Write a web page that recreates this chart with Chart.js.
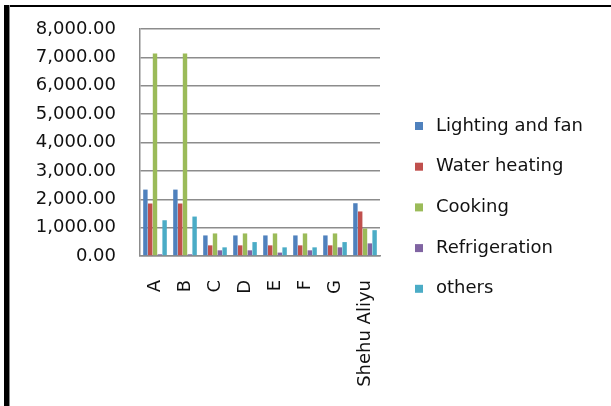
<!DOCTYPE html>
<html>
<head>
<meta charset="utf-8">
<script src="https://cdn.jsdelivr.net/npm/chart.js@4/dist/chart.umd.min.js"></script>
<style>
  body { margin: 0; background: #fff; }
  #wrap { position: relative; width: 611px; height: 406px; overflow: hidden; }
  #myChart { position: absolute; left: 0; top: 0; }
  .frameTop { position: absolute; left: 4px; top: 5px; width: 607px; height: 2px; background: #000; }
  .frameLeft { position: absolute; left: 4px; top: 5px; width: 5px; height: 401px; background: #000; border-right: 1px solid #888; }
</style>
</head>
<body>
<div id="wrap">
  <canvas id="myChart" width="611" height="406"></canvas>
  <div class="frameTop"></div>
  <div class="frameLeft"></div>
</div>
<script>
var categories = ["A", "B", "C", "D", "E", "F", "G", "Shehu Aliyu"];
var seriesNames = ["Lighting and fan", "Water heating", "Cooking", "Refrigeration", "others"];
var seriesColors = ["#4F81BD", "#C0504D", "#9BBB59", "#8064A2", "#4BACC6"];

var lighting      = [2340, 2340, 725, 725, 725, 725, 725, 1860];
var waterHeating  = [1850, 1850, 375, 375, 375, 375, 375, 1570];
var cooking       = [7140, 7140, 795, 795, 795, 795, 795, 970];
var refrigeration = [60, 60, 200, 200, 120, 200, 305, 445];
var others        = [1260, 1390, 305, 490, 305, 305, 490, 910];

var yTicks = [0, 1000, 2000, 3000, 4000, 5000, 6000, 7000, 8000];

var allSeries = [lighting, waterHeating, cooking, refrigeration, others];
var datasets = [];
for (var i = 0; i < allSeries.length; i++) {
  datasets.push({
    label: seriesNames[i],
    data: allSeries[i],
    backgroundColor: seriesColors[i],
    barPercentage: 0.92,
    categoryPercentage: 0.8
  });
}

var FONT = "'DejaVu Sans', sans-serif";
var TEXT = '#111';

// legend drawn by hand on the right, Excel style
var sideLegend = {
  id: 'sideLegend',
  afterDraw: function (chart) {
    var ctx = chart.ctx;
    ctx.save();
    ctx.font = "18px " + FONT;
    ctx.textBaseline = 'middle';
    ctx.textAlign = 'left';
    chart.data.datasets.forEach(function (ds, i) {
      var y = 126 + i * 40.7;
      ctx.fillStyle = ds.backgroundColor;
      ctx.fillRect(415, y - 4, 8, 8);
      ctx.fillStyle = TEXT;
      ctx.fillText(ds.label, 436, y);
    });
    ctx.restore();
  }
};

var ctx = document.getElementById("myChart").getContext('2d');

var myBarChart = new Chart(ctx, {
  type: 'bar',
  data: {
    labels: categories,
    datasets: datasets
  },
  options: {
    responsive: false,
    animation: false,
    devicePixelRatio: 1,
    layout: { padding: { top: 29, right: 231, left: 0, bottom: 0 } },
    plugins: {
      legend: { display: false },
      tooltip: { enabled: false }
    },
    scales: {
      x: {
        grid: { display: false },
        border: { color: '#8c8c8c', width: 1.5 },
        ticks: {
          color: TEXT,
          font: { family: FONT, size: 18 },
          minRotation: 90,
          maxRotation: 90,
          padding: 16
        },
        afterFit: function (scale) {
          scale.height = 150;
          scale.paddingLeft = 0;
          scale.paddingRight = 0;
        }
      },
      y: {
        min: 0,
        max: 8000,
        afterBuildTicks: function (scale) {
          scale.ticks = yTicks.map(function (v) { return { value: v }; });
        },
        grid: { color: '#8c8c8c', lineWidth: 1.5, drawTicks: false },
        border: { color: '#8c8c8c', width: 1.5 },
        ticks: {
          color: TEXT,
          font: { family: FONT, size: 18 },
          padding: 24,
          callback: function (v) {
            return Number(v).toLocaleString('en-US', { minimumFractionDigits: 2, maximumFractionDigits: 2 });
          }
        },
        afterFit: function (scale) {
          scale.width = 140;
          scale.paddingTop = 0;
          scale.paddingBottom = 0;
        }
      }
    }
  },
  plugins: [sideLegend]
});
</script>
</body>
</html>
